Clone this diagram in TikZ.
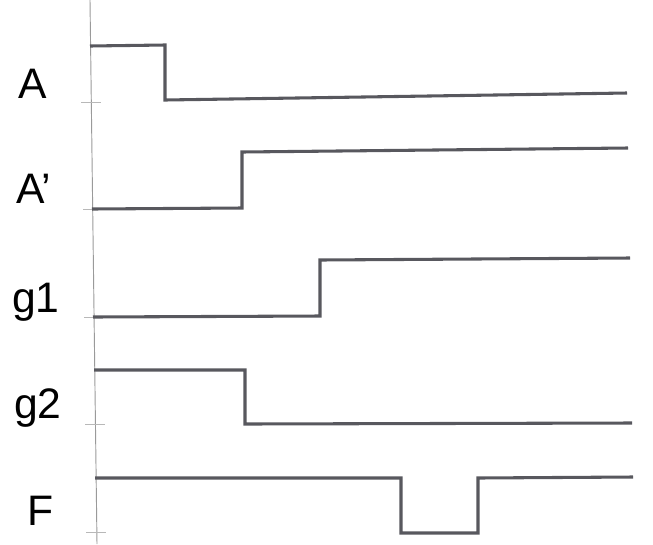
\documentclass[tikz,border=0pt]{standalone}
\usepackage{fontspec}
\setmainfont{Liberation Sans}
\usetikzlibrary{positioning}
\definecolor{tdsinal}{HTML}{58585E}
\definecolor{tdeixo}{HTML}{9A9A9A}
\tikzset{
  tdsinal/.style={draw=tdsinal, line width=2.3pt, line join=miter},
  tdeixo/.style={draw=tdeixo, line width=0.7pt},
  tdmarca/.style={draw=tdeixo!70, line width=0.6pt},
  tdrotulo/.style={font=\fontsize{32}{36}\selectfont, text=black, inner sep=0pt, anchor=base west},
}
\begin{document}
\begin{tikzpicture}[x=0.75pt, y=-0.75pt]
    \useasboundingbox (0,0) rectangle (653,544);
    % eixo do tempo
    \draw[tdeixo] (90,0) -- (97,544);
    \foreach \yy/\xx in {102/91, 209/93, 317/94, 424/95, 532/96}
        \draw[tdmarca] (\xx-10,\yy) -- (\xx+10,\yy);
    % rotulos
    \node[tdrotulo] (rA)  at (18,98)  {A};
    \node[tdrotulo] (rAl) at (16,203) {A’};
    \node[tdrotulo] (rg1) at (12,312) {g1};
    \node[tdrotulo] (rg2) at (14,418) {g2};
    \node[tdrotulo] (rF)  at (27,525) {F};
    % sinais
    \draw[tdsinal] (90,46) -- (165,45) -- (165,100) -- (627,93);
    \draw[tdsinal] (92,209) -- (242,208) -- (242,152) -- (628,148);
    \draw[tdsinal] (93,317) -- (320,316) -- (320,260) -- (630,258);
    \draw[tdsinal] (94,370) -- (245,370) -- (245,424) -- (632,423);
    \draw[tdsinal] (95,478) -- (401,478) -- (401,533) -- (478,533) -- (478,478) -- (633,477);
\end{tikzpicture}
\end{document}
